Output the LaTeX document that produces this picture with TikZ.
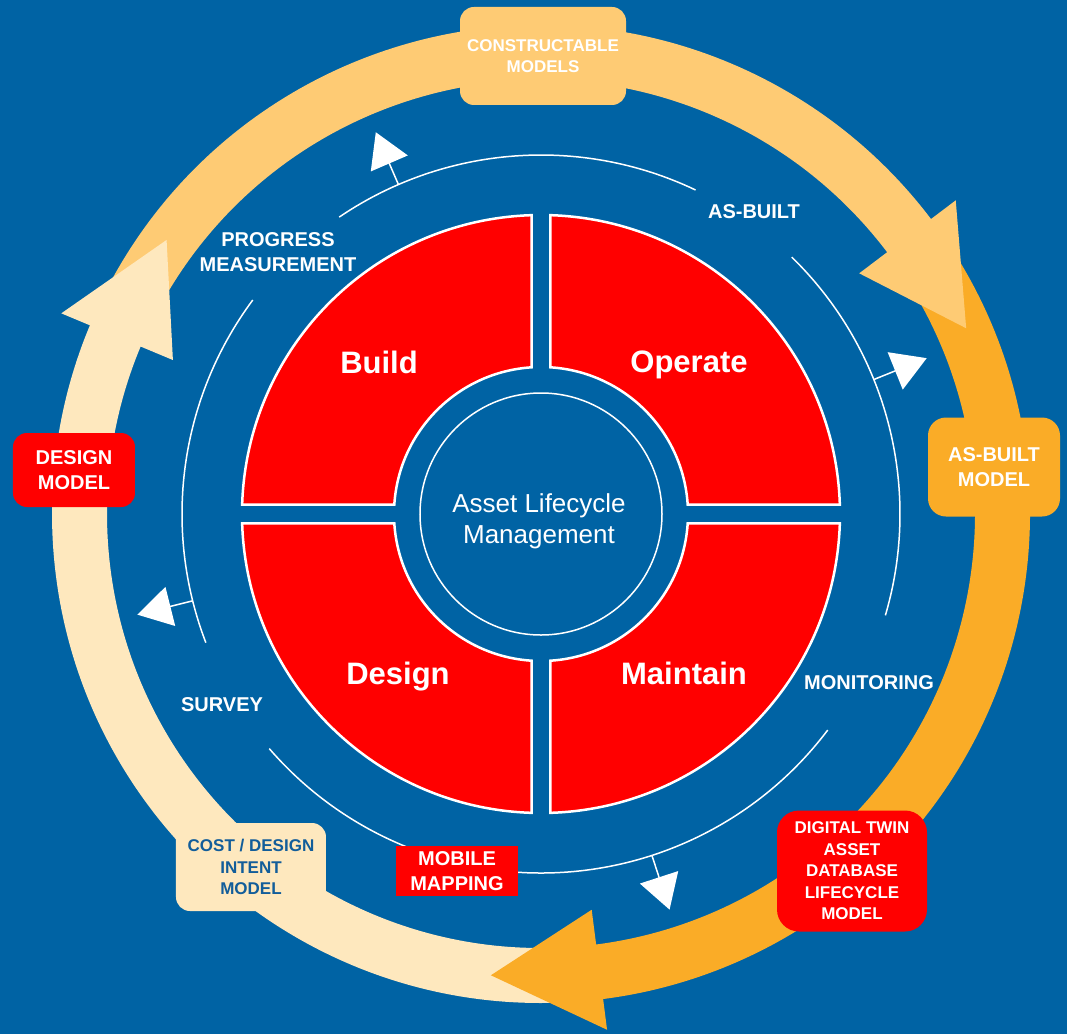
\documentclass[tikz,border=0pt]{standalone}
\usepackage{fontspec}
\setmainfont{Liberation Sans}
\usepackage{tikz}
\usetikzlibrary{arrows.meta}
\definecolor{bgblue}{RGB}{0,99,164}
\definecolor{cream}{RGB}{254,232,190}
\definecolor{lightorange}{RGB}{254,203,116}
\definecolor{darkorange}{RGB}{250,172,39}
\definecolor{textblue}{RGB}{18,93,154}
\tikzstyle{model}=[%
      rectangle, rounded corners=14pt, text=white, font=\bfseries\fontsize{17}{21.5}\selectfont,
      align=center, inner sep=4pt
]
\tikzstyle{bigmodel}=[%
      model, font=\bfseries\fontsize{20}{24.5}\selectfont
]
\tikzstyle{lbl}=[%
      text=white, font=\bfseries\fontsize{20}{25}\selectfont, align=center
]
\tikzstyle{phase}=[%
      text=white, font=\bfseries\fontsize{31}{36}\selectfont
]
\tikzstyle{band}=[line width=55pt]
\tikzstyle{track}=[draw=white, line width=1.5pt]
\tikzstyle{pin}=[draw=white, line width=1.5pt, -{Triangle[length=34pt,width=40pt]}]

\begin{document}
\begin{tikzpicture}[x=1pt, y=1pt]
    \fill[bgblue] (-541,-520) rectangle (526,514);
    \useasboundingbox (-541,-520) rectangle (526,514);

    % outer cycle
    \draw[band, cream]       (-85.7:461.5) arc[start angle=-85.7, end angle=-203.2, radius=461.5];
    \draw[band, lightorange] (154.3:461.5) arc[start angle=154.3, end angle=36.6, radius=461.5];
    \draw[band, darkorange]  (34.3:461.5)  arc[start angle=34.3, end angle=-83.2, radius=461.5];
    \foreach \t/\c in {143.8/cream, 23.6/lightorange, -96.2/darkorange}
        \fill[\c] ({\t+13.5}:399) -- (\t:464) -- ({\t+13.5}:520) -- cycle;

    % inner track
    \draw[track] (64.5:359)  arc[start angle=64.5, end angle=124.2, radius=359];
    \draw[track] (45.7:359)  arc[start angle=45.7, end angle=-16.4, radius=359];
    \draw[track] (-37:359)   arc[start angle=-37, end angle=-139.2, radius=359];
    \draw[track] (-159:359)  arc[start angle=-159, end angle=-216.6, radius=359];
    \foreach \a in {113.4, 22, -72, -166}
        \draw[pin] (\a:359) -- (\a:416);

    % quadrants
    \foreach \r in {0, 90, 180, 270}
        \filldraw[fill=red, draw=white, line width=2.5pt]
            ({\r+asin(9.3/299)}:299) arc[start angle={\r+asin(9.3/299)}, end angle={\r+90-asin(9.3/299)}, radius=299]
            -- ({\r+90-asin(9.3/147)}:147) arc[start angle={\r+90-asin(9.3/147)}, end angle={\r+asin(9.3/147)}, radius=147]
            -- cycle;
    \draw[white, line width=1.5pt] (0,0) circle[radius=121];

    \node[phase] (operate)  at (148,149)   {Operate};
    \node[phase] (build)    at (-162,152)  {Build};
    \node[phase] (design)   at (-143,-163) {Design};
    \node[phase] (maintain) at (143,-159)  {Maintain};
    \node[text=white, font=\fontsize{26}{31}\selectfont, align=center] (alm) at (-2,-7)
        {Asset Lifecycle\\Management};

    \node[lbl] (progress)   at (-263,262)  {PROGRESS\\MEASUREMENT};
    \node[lbl] (asbuilt)    at (213,302)   {AS-BUILT};
    \node[lbl] (monitoring) at (328,-169)  {MONITORING};
    \node[lbl] (survey)     at (-319,-191) {SURVEY};

    \node[model, fill=lightorange, minimum width=166pt, minimum height=98pt] (constructable) at (2,458)
        {CONSTRUCTABLE\\MODELS};
    \node[bigmodel, fill=darkorange, rounded corners=18pt, minimum width=132pt, minimum height=99pt] (asbuiltmodel) at (453,47)
        {AS-BUILT\\MODEL};
    \node[model, fill=red, rounded corners=22pt, minimum width=150pt, minimum height=121pt] (digitaltwin) at (311,-357)
        {DIGITAL TWIN\\ASSET\\DATABASE\\LIFECYCLE\\MODEL};
    \node[model, fill=cream, text=textblue, minimum width=150pt, minimum height=88pt] (costmodel) at (-290,-353)
        {COST / DESIGN\\INTENT\\MODEL};
    \node[bigmodel, fill=red, minimum width=122pt, minimum height=74pt] (designmodel) at (-467,44)
        {DESIGN\\MODEL};
    \node[bigmodel, fill=red, rounded corners=0pt, minimum width=122pt, minimum height=50pt] (mobilemapping) at (-84,-357)
        {MOBILE\\MAPPING};
\end{tikzpicture}
\end{document}
